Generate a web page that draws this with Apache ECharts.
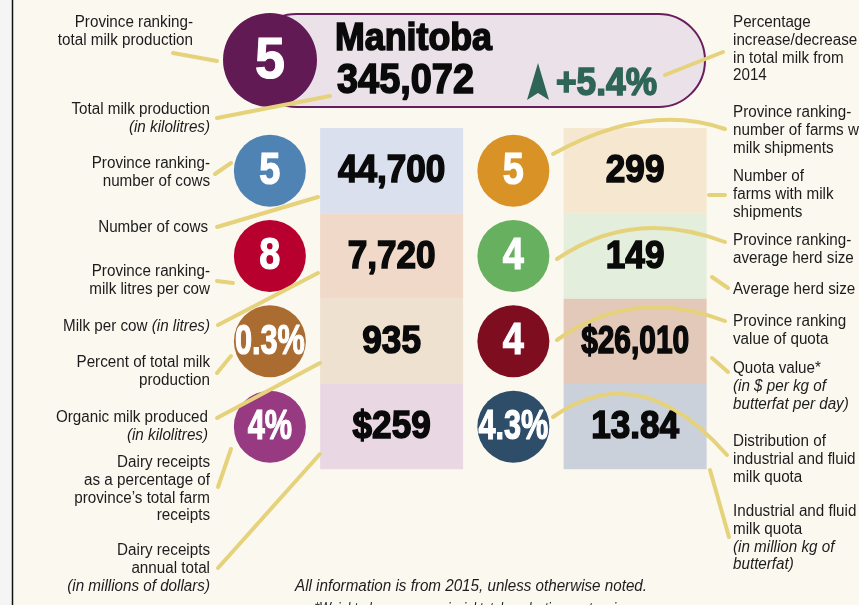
<!DOCTYPE html>
<html>
<head>
<meta charset="utf-8">
<script src="https://cdn.jsdelivr.net/npm/echarts@6/dist/echarts.min.js"></script>
<style>
  html, body { margin: 0; padding: 0; background: #fbf8f0; }
  #chart { width: 859px; height: 605px; }
</style>
</head>
<body>
<div id="chart"></div>
<script>
// header figures
const province = 'Manitoba';
const totalMilk = '345,072';
const totalRank = '5';
const totalChange = '+5.4%';

// tile grid: 4 columns (rank circle, value box, rank circle, value box) x 4 rows
const columns = ['leftRank', 'leftValue', 'rightRank', 'rightValue'];
const rows = ['row1', 'row2', 'row3', 'row4'];

const leftRanks = ['5', '8', '0.3%', '4%'];
const leftValues = ['44,700', '7,720', '935', '$259'];
const rightRanks = ['5', '4', '4', '4.3%'];
const rightValues = ['299', '149', '$26,010', '13.84'];

// colours
const leftRankColors = ['#4f83b3', '#b8002f', '#ab6c32', '#973a82'];
const rightRankColors = ['#d89226', '#67b05f', '#7f0d20', '#2d4d69'];
const leftBoxColors = ['#dae0ee', '#f1d9c9', '#efe1cf', '#e9d8e4'];
const rightBoxColors = ['#f6e8d0', '#e3eedc', '#e3c9b9', '#cbd1db'];

const FONT = '"Liberation Sans", Arial, sans-serif';
const LEADER = '#e5d27b';
const INK = '#1c1c1c';
const BLACK = '#0a0a0a';
const GREEN = '#2f6555';

// squeeze wide text so it fits like the condensed face of the original
const ctx = document.createElement('canvas').getContext('2d');
function fit(text, font, base, maxW) {
  ctx.font = font;
  const w = ctx.measureText(text).width;
  return Math.min(base, maxW / w);
}

const chart = echarts.init(document.getElementById('chart'));

// rank circles
const circleItems = [];
leftRanks.forEach((r, i) => circleItems.push({ value: [0, i], text: r, color: leftRankColors[i] }));
rightRanks.forEach((r, i) => circleItems.push({ value: [2, i], text: r, color: rightRankColors[i] }));

// value boxes
const boxItems = [];
leftValues.forEach((v, i) => boxItems.push({ value: [1, i], text: v, color: leftBoxColors[i] }));
rightValues.forEach((v, i) => boxItems.push({ value: [3, i], text: v, color: rightBoxColors[i] }));

function txt(x, y, text, align, italic, sx) {
  return {
    type: 'text', x: x, y: y, z: 20, scaleX: sx || 0.95,
    style: {
      text: text,
      font: (italic ? 'italic ' : '') + '16px ' + FONT,
      fill: INK,
      align: align, textAlign: align,
      verticalAlign: 'middle', textVerticalAlign: 'middle'
    }
  };
}

function block(x, y, lines, align, step) {
  return lines.map((l, k) => typeof l === 'string'
    ? txt(x, y + k * (step || 17.6), l, align, false)
    : txt(x, y + k * (step || 17.6), l.i, align, true));
}

// heavy text: bold face thickened with a stroke of the same colour
function heavy(x, y, text, font, color, sx, align) {
  return {
    type: 'text', x: x, y: y, z: 20, scaleX: sx,
    style: {
      text: text, font: font, fill: color, stroke: color, lineWidth: 1.6,
      align: align || 'left', textAlign: align || 'left',
      verticalAlign: 'middle', textVerticalAlign: 'middle'
    }
  };
}

const leftLabels = [
  [193, 23, ['Province ranking-', 'total milk production']],
  [210, 110, ['Total milk production', { i: '(in kilolitres)' }]],
  [210, 164, ['Province ranking-', 'number of cows']],
  [208, 228, ['Number of cows']],
  [210, 272, ['Province ranking-', 'milk litres per cow']],
  [210, 363, ['Percent of total milk', 'production']],
  [208, 418, ['Organic milk produced', { i: '(in kilolitres)' }]],
  [210, 463, ['Dairy receipts', 'as a percentage of', 'province\u2019s total farm', 'receipts']],
  [210, 551, ['Dairy receipts', 'annual total', { i: '(in millions of dollars)' }]]
];

const rightLabels = [
  [733, 23, ['Percentage', 'increase/decrease', 'in total milk from', '2014']],
  [733, 113, ['Province ranking-', 'number of farms with', 'milk shipments']],
  [733, 177, ['Number of', 'farms with milk', 'shipments']],
  [733, 241, ['Province ranking-', 'average herd size']],
  [733, 290, ['Average herd size']],
  [733, 322, ['Province ranking', 'value of quota']],
  [733, 369, ['Quota value*', { i: '(in $ per kg of' }, { i: 'butterfat per day)' }]],
  [733, 442, ['Distribution of', 'industrial and fluid', 'milk quota']],
  [733, 512, ['Industrial and fluid', 'milk quota', { i: '(in million kg of' }, { i: 'butterfat)' }]]
];

const straightLeaders = [
  [173, 53, 217, 61], [217, 118, 330, 96], [215, 174, 231, 163], [217, 227, 318, 197],
  [217, 281, 233, 283], [218, 325, 318, 273], [217, 373, 231, 356], [217, 418, 320, 363],
  [218, 487, 231, 449], [218, 568, 320, 454],
  [665, 75, 723, 52], [709, 195, 725, 195], [712, 277, 728, 288], [712, 358, 728, 372],
  [710, 470, 729, 537]
];
const curvedLeaders = [
  [553, 154, 647, 102, 725, 129],
  [557, 259, 633, 207, 725, 242],
  [557, 340, 633, 286, 725, 321],
  [553, 417, 640, 356, 727, 455]
];

const headFont = 'bold 39px ' + FONT;
const totalFont = 'bold 42px ' + FONT;
const changeFont = 'bold 39px ' + FONT;
const noteFont = 'italic 16px ' + FONT;
const note1 = 'All information is from 2015, unless otherwise noted.';
const note2 = '*Weighted average provincial total production quota price';

const graphics = [
  // left page edge
  { type: 'rect', z: 0, shape: { x: 0, y: 0, width: 12, height: 605 }, style: { fill: '#f5f5f5' } },
  { type: 'line', z: 0, shape: { x1: 12.5, y1: 0, x2: 12.5, y2: 605 }, style: { stroke: '#111', lineWidth: 1.5 } },
  // header pill
  { type: 'rect', z: 0, shape: { x: 250, y: 14, width: 455, height: 93, r: 46.5 },
    style: { fill: '#ebe1e9', stroke: '#6a1d5d', lineWidth: 2 } },
  heavy(335, 39, province, headFont, BLACK, fit(province, headFont, 1, 157)),
  heavy(337, 81, totalMilk, totalFont, BLACK, fit(totalMilk, totalFont, 2, 137)),
  { type: 'polygon', z: 20, shape: { points: [[538, 63], [549, 100], [538, 93], [527, 100]] }, style: { fill: GREEN } },
  heavy(556, 84, totalChange, changeFont, GREEN, fit(totalChange, changeFont, 1, 101)),
  // footnote
  txt(471, 587, note1, 'center', true, fit(note1, noteFont, 1, 352)),
  txt(472, 610, note2, 'center', true, fit(note2, noteFont, 1, 315))
];

leftLabels.forEach(b => graphics.push(...block(b[0], b[1], b[2], 'right')));
rightLabels.forEach(b => graphics.push(...block(b[0], b[1], b[2], 'left')));
// mixed style label
graphics.push({
  type: 'text', x: 210, y: 327, z: 20, scaleX: 0.95,
  style: {
    text: '{n|Milk per cow }{i|(in litres)}',
    align: 'right', textAlign: 'right', verticalAlign: 'middle', textVerticalAlign: 'middle',
    rich: {
      n: { font: '16px ' + FONT, fill: INK, color: INK },
      i: { font: 'italic 16px ' + FONT, fill: INK, color: INK }
    }
  }
});

straightLeaders.forEach(s => graphics.push({
  type: 'line', z: 30, shape: { x1: s[0], y1: s[1], x2: s[2], y2: s[3] },
  style: { stroke: LEADER, lineWidth: 4, lineCap: 'round' }
}));
curvedLeaders.forEach(s => graphics.push({
  type: 'bezierCurve', z: 30, shape: { x1: s[0], y1: s[1], cpx1: s[2], cpy1: s[3], x2: s[4], y2: s[5] },
  style: { stroke: LEADER, lineWidth: 4, lineCap: 'round', fill: null }
}));

const option = {
  backgroundColor: '#fbf8f0',
  animation: false,
  grid: [
    { left: 209, top: 128, width: 487, height: 341.3 },
    { left: 223, top: 13, width: 94, height: 94 }
  ],
  xAxis: [
    { gridIndex: 0, type: 'category', data: columns, show: false },
    { gridIndex: 1, type: 'category', data: ['total'], show: false }
  ],
  yAxis: [
    { gridIndex: 0, type: 'category', data: rows, inverse: true, show: false },
    { gridIndex: 1, type: 'category', data: ['total'], show: false }
  ],
  graphic: { elements: graphics },
  series: [
    {
      // value boxes
      type: 'custom',
      z: 2,
      xAxisIndex: 0, yAxisIndex: 0,
      data: boxItems.map(b => b.value),
      renderItem: (params, api) => {
        const c = api.coord([api.value(0), api.value(1)]);
        const h = api.size([0, 1])[1];
        const w = 143;
        const item = boxItems[params.dataIndex];
        const font = 'bold 39px ' + FONT;
        return {
          type: 'group',
          children: [
            { type: 'rect', shape: { x: c[0] - w / 2, y: c[1] - h / 2, width: w, height: h }, style: { fill: item.color } },
            { type: 'text', x: c[0], y: c[1] + 1, scaleX: fit(item.text, font, 0.9, 108),
              style: { text: item.text, font: font, fill: BLACK, stroke: BLACK, lineWidth: 1.6, align: 'center', verticalAlign: 'middle' } }
          ]
        };
      }
    },
    {
      // ranking circles
      type: 'custom',
      z: 3,
      xAxisIndex: 0, yAxisIndex: 0,
      data: circleItems.map(b => b.value),
      renderItem: (params, api) => {
        const c = api.coord([api.value(0), api.value(1)]);
        const item = circleItems[params.dataIndex];
        const pct = item.text.indexOf('%') >= 0;
        return {
          type: 'group',
          children: [
            { type: 'circle', shape: { cx: c[0], cy: c[1], r: 36 }, style: { fill: item.color } },
            { type: 'text', x: c[0], y: c[1] + 1, scaleX: pct ? 0.73 : 0.86,
              style: { text: item.text, font: 'bold ' + (pct ? 42 : 44) + 'px ' + FONT, fill: '#fff', stroke: '#fff', lineWidth: 1.2, align: 'center', verticalAlign: 'middle' } }
          ]
        };
      }
    },
    {
      // header ranking circle
      type: 'custom',
      z: 3,
      xAxisIndex: 1, yAxisIndex: 1,
      data: [[0, 0]],
      renderItem: (params, api) => {
        const c = api.coord([api.value(0), api.value(1)]);
        const r = api.size([1, 1])[0] / 2;
        return {
          type: 'group',
          children: [
            { type: 'circle', shape: { cx: c[0], cy: c[1], r: r }, style: { fill: '#621a55' } },
            { type: 'text', x: c[0], y: c[1] + 2, scaleX: 0.93,
              style: { text: totalRank, font: 'bold 58px ' + FONT, fill: '#fff', stroke: '#fff', lineWidth: 1.2, align: 'center', verticalAlign: 'middle' } }
          ]
        };
      }
    }
  ]
};

chart.setOption(option);
window.addEventListener('resize', () => chart.resize());
</script>
</body>
</html>
